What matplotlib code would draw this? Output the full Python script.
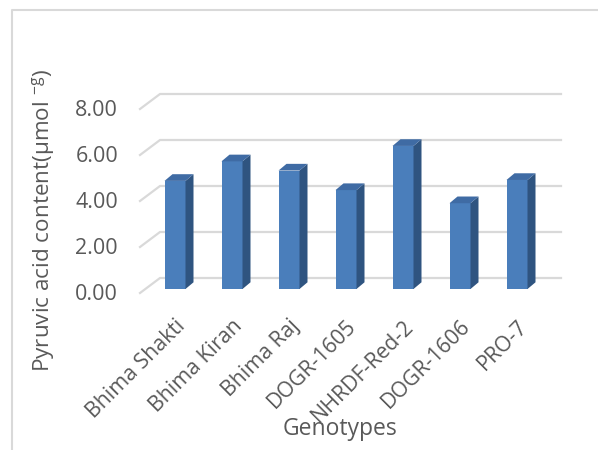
import matplotlib
matplotlib.use('Agg')
import matplotlib.pyplot as plt
from matplotlib.patches import Polygon
from matplotlib.lines import Line2D

# ---- data ----
genotypes = ['Bhima Shakti', 'Bhima Kiran', 'Bhima Raj', 'DOGR-1605',
             'NHRDF-Red-2', 'DOGR-1606', 'PRO-7']
pyruvic = [4.70, 5.55, 5.15, 4.30, 6.22, 3.73, 4.74]
yticks = [0, 2, 4, 6, 8]
ytick_labels = ['0.00', '2.00', '4.00', '6.00', '8.00']
xlabel = 'Genotypes'
ylabel = r'Pyruvic acid content(µmol $^{\mathrm{-g}}$)'

plt.rcParams['font.family'] = ['Open Sans', 'DejaVu Sans']
plt.rcParams['mathtext.fontset'] = 'custom'
plt.rcParams['mathtext.rm'] = 'Open Sans'
plt.rcParams['mathtext.it'] = 'Open Sans:italic'

TXT = '#595959'
GRID = '#d9d9d9'
FRONT = '#4a7ebb'
SIDE = '#2f5480'
TOP = '#3f6ba4'

W, H = 598, 450
fig = plt.figure(figsize=(W / 100, H / 100), dpi=100)
ax = fig.add_axes([0, 0, 1, 1])
ax.axis('off')

# layout scale (pixels)
cat_px, x0_px, unit_px, base_px = 57.0, 175.0, 23.0, 289.0
ax.set_xlim(-x0_px / cat_px, (W - x0_px) / cat_px)
ax.set_ylim((base_px - H) / unit_px, base_px / unit_px)


def px2x(p):
    return (p - x0_px) / cat_px


def py2y(p):
    return (base_px - p) / unit_px


def dx(p):
    return p / cat_px


def dy(p):
    return p / unit_px


# back wall gridlines with perspective diagonals
for v in yticks:
    ax.plot([px2x(140), px2x(160), px2x(561)],
            [v - dy(4), v + dy(11), v + dy(11)],
            color=GRID, lw=1.6, zorder=1, solid_joinstyle='miter')

# bars (front face + side + top)
xs = list(range(len(genotypes)))
bw = dx(21)
ox, oy = dx(8), dy(6.7)
ax.bar(xs, pyruvic, width=bw, color=FRONT, zorder=3, linewidth=0)
for x, v in zip(xs, pyruvic):
    r = x + bw / 2
    l = x - bw / 2
    ax.add_patch(Polygon([(r, 0), (r + ox, oy), (r + ox, v + oy), (r, v)],
                         closed=True, facecolor=SIDE, edgecolor='none', zorder=3))
    ax.add_patch(Polygon([(l, v), (r, v), (r + ox, v + oy), (l + ox, v + oy)],
                         closed=True, facecolor=TOP, edgecolor='none', zorder=3))

# y tick labels
for v, lab in zip(yticks, ytick_labels):
    ax.text(px2x(118), v - dy(6), lab, ha='right', va='center',
            fontsize=15.5, color=TXT)

# category labels
for x, name in zip(xs, genotypes):
    ax.text(x + dx(0), -dy(27), name, rotation=45, rotation_mode='anchor',
            ha='right', va='top', fontsize=15.3, color=TXT)

ax.text(px2x(340), py2y(429), xlabel, ha='center', va='center',
        fontsize=16.5, color=TXT)
ax.text(px2x(43), py2y(220), ylabel, rotation=90, ha='center', va='center',
        fontsize=16.2, color=TXT)

# chart border (partially cropped)
fig.add_artist(Line2D([12 / W, 12 / W, 1.0], [0, 1 - 10 / H, 1 - 10 / H],
                      color=GRID, lw=1.5))

fig.savefig('out.png', dpi=100)
